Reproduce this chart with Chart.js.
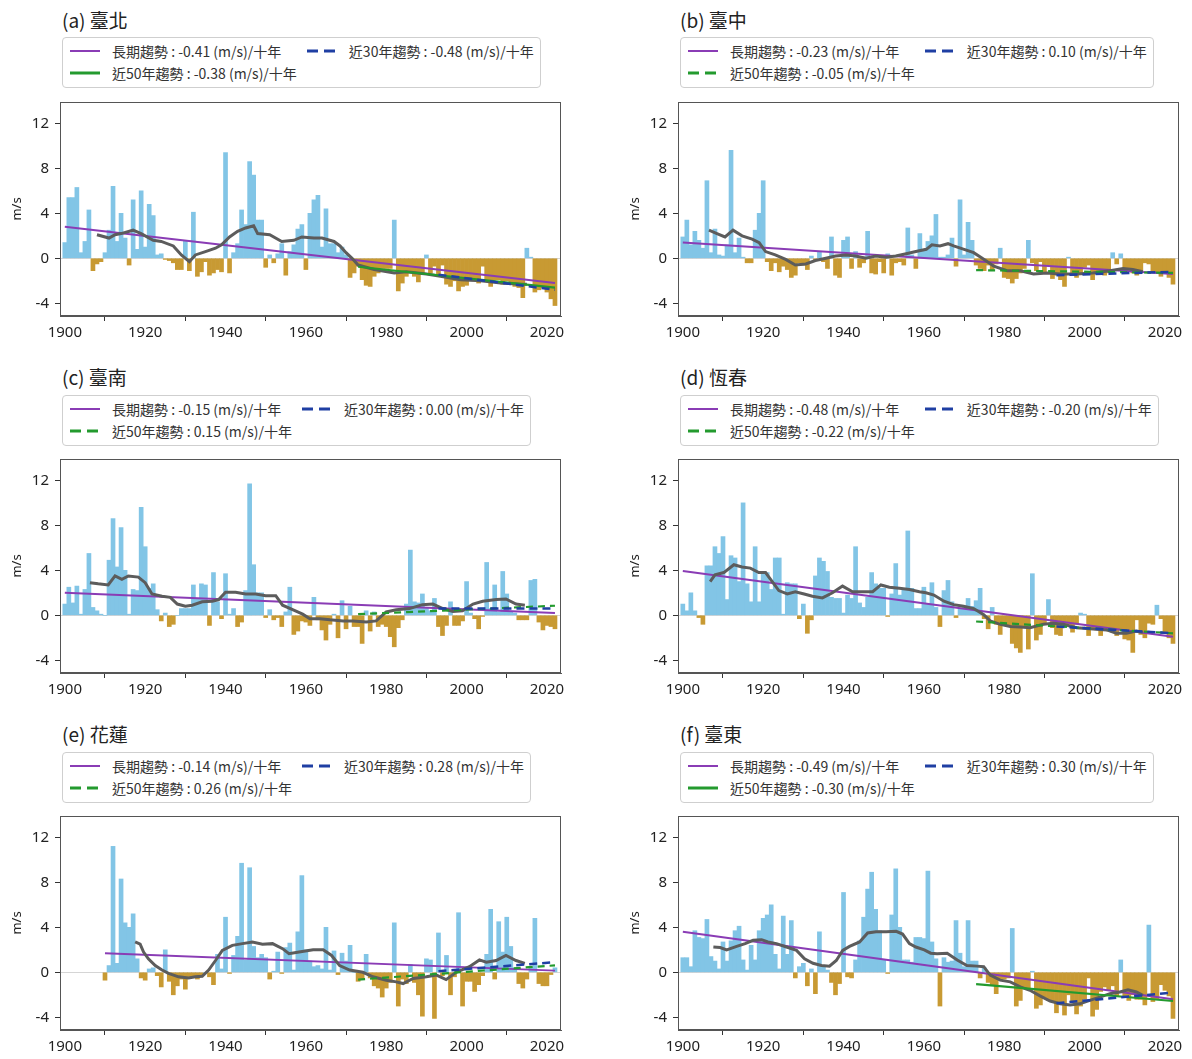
<!DOCTYPE html>
<html>
<head>
<meta charset="utf-8">
<script src="https://cdn.jsdelivr.net/npm/chart.js@4.4.0/dist/chart.umd.min.js"></script>
<style>
  body { margin: 0; background: #fff; width: 1192px; height: 1059px; position: relative; overflow: hidden;
         font-family: "Noto Sans CJK TC", "Noto Sans", sans-serif; }
  .ttl { position: absolute; font-size: 19px; line-height: 20px; color: #222; white-space: nowrap; }
  .leg { position: absolute; border: 1px solid #cfcfcf; border-radius: 4px; padding: 2px 6px 3px 7px;
         display: grid; grid-template-columns: auto auto; column-gap: 10px; font-size: 14px; color: #333; background: #fff; }
  .item { display: flex; align-items: center; height: 22px; white-space: nowrap; }
  .item svg { margin-right: 12px; flex: none; }
  canvas { position: absolute; }
</style>
</head>
<body>
<script>
// years 1900 - 2022
var years = [];
for (var y = 1900; y <= 2022; y++) years.push(y);

var titles = ['(a) 臺北', '(b) 臺中', '(c) 臺南', '(d) 恆春', '(e) 花蓮', '(f) 臺東'];
var slopeLong = ['-0.41', '-0.23', '-0.15', '-0.48', '-0.14', '-0.49'];
var slope30 = ['-0.48', '0.10', '0.00', '-0.20', '0.28', '0.30'];
var slope50 = ['-0.38', '-0.05', '0.15', '-0.22', '0.26', '-0.30'];
var solid50 = [true, false, false, false, false, true];

// yearly anomaly (m/s), one value per year
var barsTaipei = [
  1.4, 5.4, 5.4, 6.3, 0.5, 1.5, 4.3, -1.1, -0.5, -0.3,
  0.5, 2.5, 6.4, 1.5, 4.0, 1.8, -0.6, 5.2, 0.8, 6.0,
  1.0, 4.8, 3.8, 0.3, 0.4, -0.1, -0.2, -0.4, -1.0, -1.0,
  1.6, -1.1, 4.1, -1.6, -1.2, -0.3, -1.5, -1.3, -1.0, -1.2,
  9.4, -1.3, 0.5, 1.3, 4.3, 3.0, 8.6, 7.4, 3.4, 3.4,
  -0.8, 0.3, -0.4, 0.4, 1.3, -1.5, 0.6, 1.2, 2.6, 3.0,
  -1.0, 4.0, 5.2, 5.6, 1.0, 4.4, 1.3, 1.3, 0.5, 1.0,
  0.3, -1.7, -1.3, -0.7, -1.9, -2.4, -2.5, -1.6, -1.3, -0.9,
  -0.9, -0.9, 3.4, -2.9, -2.2, -1.6, -1.3, -1.6, -2.1, -1.3,
  0.3, -1.3, -0.7, -1.4, -0.6, -2.3, -2.5, -2.0, -2.9, -2.5,
  -2.4, -2.0, -1.9, -2.2, -0.7, -2.0, -2.5, -1.9, -1.9, -2.3,
  -2.0, -2.2, -2.5, -2.6, -3.5, 0.9, 0.1, -3.0, -2.8, -2.6,
  -3.0, -3.6, -4.2];
var barsTaichung = [
  1.9, 3.4, 1.2, 2.4, 1.6, 0.9, 6.9, 0.5, 2.6, 0.3,
  0.2, 1.2, 9.6, 0.5, 1.8, 0.1, -0.4, -0.4, 2.5, 4.0,
  6.9, -0.3, -1.1, -0.4, -1.2, -0.7, -1.0, -1.7, -1.5, -0.4,
  -0.6, -1.0, 0.2, -0.2, 0.6, -0.3, -0.9, 1.9, -1.5, -1.7,
  1.6, 1.9, -0.9, 0.6, -0.8, -0.4, 2.4, -1.3, -1.4, -0.3,
  -1.3, 0.4, -1.5, -0.4, -0.3, -0.6, 2.7, 0.3, -0.9, 2.2,
  0.8, 1.5, 2.0, 3.9, 0.1, 0.1, 0.3, 1.8, -0.7, 5.2,
  0.3, 3.2, 1.6, -0.6, -0.9, -1.1, -0.6, -1.0, -0.5, 0.9,
  -1.7, -1.8, -2.2, -1.8, -1.3, -0.9, 1.6, -0.4, -1.1, -0.3,
  -1.2, -0.6, -1.8, -1.5, -1.9, -2.5, 0.1, -1.5, -1.7, -1.3,
  -0.8, -0.6, -1.9, -1.4, -1.2, -1.5, -1.3, 0.5, -0.5, 0.4,
  -1.0, -0.9, -1.3, -1.5, -1.1, -0.4, -0.5, -1.2, -1.3, -1.6,
  -1.2, -1.7, -2.3];
var barsTainan = [
  1.0, 2.5, 1.1, 2.6, 0.1, 2.3, 5.5, 0.7, 0.4, 0.1,
  0.0, 4.9, 8.6, 4.3, 7.8, 4.0, 0.1, 2.3, 2.2, 9.6,
  6.1, 2.4, 2.8, 0.5, -0.5, 0.2, -1.0, -0.8, 0.0, 0.6,
  0.6, 0.6, 2.7, 1.5, 2.8, 2.7, -0.9, 3.8, 1.2, -0.3,
  3.7, 0.1, 0.6, -1.0, -0.6, 2.2, 11.7, 4.5, 2.0, 2.0,
  -0.2, 0.5, -0.4, -0.2, -1.0, 0.3, 2.5, -1.7, -1.4, -0.5,
  -0.6, -0.9, 1.6, -0.4, -1.3, -2.2, -0.8, 0.1, -2.0, 1.3,
  -1.2, 0.8, -1.0, -1.0, -2.5, 0.4, -1.4, 0.3, -1.0, -0.8,
  -1.0, -1.9, -2.8, -1.1, -0.4, 1.0, 5.8, 1.2, 1.1, 1.9,
  0.7, 0.4, 1.5, -1.0, -1.8, -0.9, 1.2, -0.9, -0.9, -0.5,
  3.0, 0.2, -0.3, -1.2, -0.1, 4.7, 0.6, 2.7, 0.3, 3.9,
  1.9, 0.3, 0.2, -0.4, -0.4, -0.4, 3.1, 3.2, -0.6, -1.3,
  -0.9, -1.0, -1.2];
var barsHengchun = [
  1.0, 0.4, 2.0, 0.4, -0.2, -0.8, 4.4, 4.4, 6.1, 5.5,
  7.0, 1.4, 5.3, 5.1, 3.0, 10.0, 2.8, 1.2, 6.1, 1.2,
  3.8, 3.8, 2.3, 5.1, 5.1, 0.1, 2.9, 2.8, 2.8, -0.3,
  1.0, -1.6, -0.4, 3.5, 5.1, 4.8, 3.9, 1.6, 1.5, 1.5,
  0.2, 1.8, 1.5, 6.1, 1.1, 0.7, 1.6, 3.8, 2.8, 2.4,
  2.4, -0.1, 1.9, 4.6, 1.8, 2.4, 7.5, 2.4, 0.6, 0.6,
  2.5, 1.0, 2.9, 0.7, -1.0, 2.2, 3.1, 1.2, -0.2, 0.6,
  0.7, 1.5, 0.8, 1.3, 2.4, -0.3, -1.2, 0.7, -0.8, -1.7,
  -0.7, -1.0, -2.5, -2.9, -3.3, -1.1, -3.0, 3.7, -2.2, -1.7,
  -0.8, 1.4, -1.1, -1.7, -1.8, -1.0, -0.8, -1.5, -0.8, 0.2,
  0.1, -1.8, -1.2, -1.3, -1.8, -1.3, -1.4, -1.5, -1.8, -1.3,
  -2.1, -2.2, -3.3, -0.4, -1.7, -2.0, -0.7, -0.8, 0.9, -0.3,
  -1.6, -2.0, -2.5];
var barsHualien = [
  null, null, null, null, null, null, null, null, null, null,
  -0.7, 0.6, 11.2, 0.8, 8.3, 4.4, 4.0, 5.2, 1.2, -0.5,
  -0.7, 0.3, 0.4, -0.3, -1.3, 2.0, -0.8, -2.0, -1.2, -0.6,
  -1.5, -0.4, -0.3, -0.6, -0.3, 0.0, -0.4, -1.1, 1.6, 0.3,
  4.9, -0.1, 1.5, 3.2, 9.7, 1.1, 9.3, 2.3, 1.3, 1.6,
  1.3, -0.6, 0.1, 1.8, -0.1, 2.2, 2.6, 0.2, 3.6, 8.6,
  2.0, 1.0, 0.5, 0.6, 0.3, 4.0, 0.2, 1.9, -0.2, 1.7,
  1.0, 2.4, 0.0, -0.8, -0.6, 1.6, -0.5, -1.2, -1.4, -2.2,
  -1.4, -0.9, 4.4, -3.0, -0.6, -1.0, 0.7, -0.9, -2.0, -3.9,
  1.2, 1.1, -4.1, 3.5, -0.3, 1.5, -2.0, -0.4, 5.3, -3.0,
  -0.8, -0.8, -1.7, -1.1, -0.3, 1.6, 5.6, -0.6, 4.5, 1.8,
  4.9, 2.3, 0.4, -1.0, -1.4, -0.6, 0.5, 4.8, -1.0, -1.2,
  -1.2, -0.2, 0.4];
var barsTaitung = [
  1.3, 1.3, 0.5, 3.7, 3.1, 3.0, 4.7, 1.4, 1.0, 0.3,
  2.7, 1.0, 2.8, 3.7, 4.1, 1.1, 0.2, 2.4, 1.1, 3.7,
  4.8, 5.1, 6.0, 1.6, 0.3, 5.0, 1.6, 4.6, -0.5, 0.5,
  0.8, -1.2, 0.3, -1.9, 3.6, 0.5, 0.2, -0.9, -2.0, -1.0,
  7.1, -0.4, -0.5, 1.1, 2.8, 4.9, 7.4, 8.9, 5.6, 3.7,
  1.1, -0.1, 5.1, 9.2, 4.0, 1.1, 1.1, 0.9, 3.1, 3.1,
  3.0, 9.0, 2.7, 1.2, -3.0, 1.3, 0.9, 1.0, 4.6, 1.7,
  0.5, 4.6, 1.0, 1.0, -0.5, 0.4, -0.9, -1.1, -1.9, -0.6,
  -0.6, -0.5, 3.9, -3.0, -2.5, -1.4, -1.4, 0.1, -3.2, -2.9,
  -2.2, -2.5, -2.6, -3.6, -2.7, -3.8, -2.0, -2.7, -3.7, -3.0,
  -2.4, -0.5, -3.9, -3.3, -1.7, -1.3, -1.6, -1.2, -2.1, 1.1,
  -2.1, -2.5, -2.0, -2.4, -2.4, -2.9, 4.2, -2.6, -2.4, -1.1,
  -1.6, -2.1, -4.1];

// running mean: [year, m/s]
var maTaipei = [[1908,2.1],[1911,1.8],[1912.5,2.1],[1914,2.2],[1917,2.5],[1919,2.2],[1922,1.6],[1924,1.5],[1927,1.1],[1929,0.3],[1931,-0.3],[1932.5,0.3],[1935,0.6],[1937.5,0.9],[1939,1.2],[1941,1.9],[1943,2.4],[1945,2.7],[1947,2.9],[1948,2.2],[1951,2.1],[1954,1.5],[1957,1.6],[1959,1.9],[1962,1.8],[1964,1.8],[1967,1.5],[1968.5,1.1],[1970,0.5],[1971.5,0.0],[1973,-0.6],[1977,-1.0],[1982,-1.3],[1985,-1.2],[1990,-1.4],[1993.5,-1.6],[1998.5,-1.9],[2003.5,-2.0],[2008.5,-2.2],[2013.5,-2.3],[2015,-2.3]];
var maTaichung = [[1906.5,2.5],[1908.5,2.2],[1910.5,1.9],[1912.5,2.5],[1914.75,2.0],[1917.25,1.7],[1919,1.4],[1920.6,0.6],[1923,0.3],[1925.6,-0.1],[1928,-0.6],[1930.6,-0.5],[1933,-0.2],[1935.6,0.0],[1938,0.2],[1940.6,0.3],[1943,0.2],[1945.6,0.0],[1948,0.2],[1950.6,0.1],[1953,0.2],[1955.6,0.4],[1958,0.6],[1960.6,0.8],[1962,1.2],[1964,1.1],[1966,1.3],[1967.4,1.1],[1970,0.8],[1972.4,0.5],[1975,-0.1],[1977.4,-0.7],[1980.7,-1.1],[1984,-1.1],[1987.3,-1.4],[1990.6,-1.3],[1993.9,-1.4],[1998,-1.4],[2002,-1.3],[2006.3,-1.1],[2009.6,-0.9],[2012,-1.0],[2014.5,-1.2]];
var maTainan = [[1906.25,2.9],[1908.3,2.8],[1910.8,2.7],[1912.5,3.5],[1914.2,3.2],[1915.8,3.5],[1918.3,3.4],[1920,2.9],[1921.7,1.9],[1924.2,1.7],[1926.25,1.6],[1928,1.0],[1930,0.8],[1931.7,0.9],[1934.2,1.2],[1936.7,1.25],[1938.3,1.4],[1940,2.05],[1942.5,2.05],[1945,1.9],[1947.5,1.9],[1950,1.75],[1952.5,1.75],[1954.2,0.9],[1956.7,0.5],[1959.2,0.1],[1961,-0.3],[1963.5,-0.3],[1966,-0.4],[1969.3,-0.5],[1971.75,-0.5],[1975,-0.6],[1977.5,-0.5],[1980,0.3],[1982.5,0.5],[1985.8,0.6],[1989,0.95],[1991.6,1.0],[1994.1,0.6],[1996.6,0.35],[1999,0.4],[2001.6,1.0],[2004,1.25],[2007.4,1.4],[2009.8,1.45],[2012.3,1.0],[2014.5,0.9]];
var maHengchun = [[1906.8,3.0],[1908,3.6],[1910.2,3.8],[1912.7,4.5],[1914.75,4.3],[1916.8,4.2],[1918.9,3.8],[1920.6,3.8],[1922.25,3.0],[1923.9,2.2],[1926,1.9],[1928,2.1],[1930.2,1.9],[1932.25,1.7],[1934.75,1.55],[1937.25,2.0],[1939.75,2.6],[1942.25,2.1],[1944.75,2.1],[1947.25,2.1],[1949.3,2.7],[1951.4,2.5],[1953.9,2.4],[1956.4,2.3],[1958.9,2.1],[1960.5,2.0],[1962.5,1.8],[1965,1.25],[1967.4,0.95],[1969.9,0.8],[1972.4,0.6],[1974.9,0.05],[1976.5,-0.5],[1979,-0.8],[1981.5,-1.0],[1984,-1.05],[1986.4,-1.1],[1989.75,-0.8],[1992.2,-0.7],[1994.7,-0.8],[1998,-1.1],[2001.3,-1.2],[2005.5,-1.3],[2007.9,-1.6],[2010.4,-1.6],[2012.9,-1.4],[2014.5,-1.5]];
var maHualien = [[1917.5,2.7],[1918.75,2.5],[1919.6,1.8],[1920.8,1.2],[1922.5,0.6],[1924.2,0.2],[1925.8,-0.1],[1928.3,-0.4],[1930.8,-0.5],[1932.5,-0.4],[1934.2,-0.35],[1935.8,0.2],[1937.5,1.05],[1939.2,1.95],[1941.7,2.4],[1944.2,2.55],[1946.7,2.7],[1949.2,2.5],[1951.7,2.55],[1954.2,2.1],[1955.8,1.65],[1958.3,1.8],[1961.8,2.0],[1964.3,2.0],[1966.4,1.5],[1968.4,0.6],[1970.9,0.2],[1974.2,0.0],[1976.7,-0.4],[1980,-0.7],[1982.5,-0.85],[1984.2,-1.0],[1986.7,-0.55],[1990,-0.4],[1992.5,-0.25],[1994.9,-0.65],[1997.4,0.0],[2000.7,0.5],[2003.2,1.1],[2004.9,0.9],[2007.35,1.05],[2009.8,1.5],[2012.3,1.05],[2014.5,0.8]];
var maTaitung = [[1907.6,2.25],[1909.3,2.2],[1910.9,2.0],[1913.4,2.3],[1915.5,2.55],[1917.5,2.85],[1919.6,2.9],[1921.2,2.7],[1923.3,2.55],[1925.8,2.25],[1928.3,1.95],[1930.3,1.2],[1932.4,0.8],[1934.5,0.6],[1936.5,0.55],[1938.2,1.05],[1939.8,1.95],[1941.5,2.3],[1944,2.7],[1946,3.5],[1948.1,3.6],[1950.6,3.6],[1953.1,3.65],[1954.7,3.4],[1956.4,2.55],[1958,2.25],[1960.1,2.0],[1961.7,1.7],[1963.3,1.65],[1965.8,1.7],[1968.3,1.1],[1970.7,0.6],[1973.2,0.55],[1974.9,0.5],[1976.5,-0.25],[1979,-0.7],[1981.5,-0.85],[1984,-1.3],[1986.4,-1.6],[1988.9,-2.1],[1991.4,-2.55],[1993.9,-2.8],[1996.4,-2.9],[1998.8,-2.8],[2001.3,-2.5],[2003.8,-2.2],[2006.3,-1.9],[2008.8,-1.75],[2010.8,-1.55],[2012.9,-1.75],[2014.5,-2.05]];

// trend line end points [[year, m/s], [year, m/s]]
var trendLong = [[[1900,2.8],[2022,-2.2]], [[1900,1.4],[2022,-1.4]], [[1900,2.0],[2022,0.2]],
                 [[1900,3.95],[2022,-1.9]], [[1910,1.7],[2022,0.15]], [[1900,3.6],[2022,-2.4]]];
var trend50 = [[[1973,-0.75],[2022,-2.6]], [[1973,-1.05],[2022,-1.3]], [[1973,0.1],[2022,0.85]],
               [[1973,-0.55],[2022,-1.6]], [[1973,-0.65],[2022,0.62]], [[1973,-1.05],[2022,-2.55]]];
var trend30 = [[[1993,-1.45],[2022,-2.8]], [[1993,-1.5],[2022,-1.2]], [[1993,0.6],[2022,0.6]],
               [[1993,-1.0],[2022,-1.6]], [[1993,0.1],[2022,0.9]], [[1993,-2.75],[2022,-1.8]]];

var xTicks = [1900, 1920, 1940, 1960, 1980, 2000, 2020];
var yTicks = [-4, 0, 4, 8, 12];

var allBars = [barsTaipei, barsTaichung, barsTainan, barsHengchun, barsHualien, barsTaitung];
var allMA = [maTaipei, maTaichung, maTainan, maHengchun, maHualien, maTaitung];

var BLUE_BAR = '#82c5e6', BROWN_BAR = '#c89a33';
var PURPLE = '#8a3cb5', GRAY = '#5c5c5c', GREEN = '#239a2e', BLUE = '#1f3fa3';

var colX = [0, 618];
var rowCanvasTop = [98, 455, 812];
var rowTitleTop = [10, 367, 724];
var rowLegTop = [37, 395, 752];

Chart.defaults.font.family = "'Noto Sans', 'DejaVu Sans', sans-serif";

function toPts(pairs) {
    return pairs.map(function(p) { return {x: p[0], y: p[1]}; });
}

function handle(color, dash, width) {
    return '<svg width="30" height="10"><line x1="0" y1="5" x2="30" y2="5" stroke="' + color +
        '" stroke-width="' + width + '"' + (dash ? ' stroke-dasharray="' + dash + '"' : '') + '/></svg>';
}

var framePlugin = {
    id: 'frame',
    afterDraw: function(chart) {
        var a = chart.chartArea, c = chart.ctx;
        c.save();
        c.strokeStyle = '#555';
        c.lineWidth = 1;
        c.strokeRect(Math.round(a.left) + 0.5, Math.round(a.top) + 0.5,
                     Math.round(a.right - a.left) - 1, Math.round(a.bottom - a.top) - 1);
        c.restore();
    }
};

for (var i = 0; i < 6; i++) {
    if (allBars[i].length != years.length) throw new Error('bars ' + i + ' has ' + allBars[i].length);
    var col = i % 2, row = Math.floor(i / 2);
    var x0 = colX[col];

    var t = document.createElement('div');
    t.className = 'ttl';
    t.style.left = (x0 + 62) + 'px';
    t.style.top = rowTitleTop[row] + 'px';
    t.textContent = titles[i];
    document.body.appendChild(t);

    var leg = document.createElement('div');
    leg.className = 'leg';
    leg.style.left = (x0 + 62) + 'px';
    leg.style.top = rowLegTop[row] + 'px';
    leg.innerHTML =
        '<div class="item">' + handle(PURPLE, null, 2) + '長期趨勢 : ' + slopeLong[i] + ' (m/s)/十年</div>' +
        '<div class="item">' + handle(BLUE, '11 6', 3) + '近30年趨勢 : ' + slope30[i] + ' (m/s)/十年</div>' +
        '<div class="item">' + handle(GREEN, solid50[i] ? null : '11 6', 3) + '近50年趨勢 : ' + slope50[i] + ' (m/s)/十年</div>';
    document.body.appendChild(leg);

    var cv = document.createElement('canvas');
    cv.width = 566;
    cv.height = 250;
    cv.style.left = x0 + 'px';
    cv.style.top = rowCanvasTop[row] + 'px';
    document.body.appendChild(cv);

    var barPts = [];
    for (var k = 0; k < years.length; k++) {
        if (allBars[i][k] !== null) barPts.push({x: years[k], y: allBars[i][k]});
    }

    new Chart(cv.getContext('2d'), {
        type: 'bar',
        data: {
            datasets: [
                {type: 'bar', data: barPts, order: 10,
                 backgroundColor: barPts.map(function(p) { return p.y >= 0 ? BLUE_BAR : BROWN_BAR; }),
                 barPercentage: 1.0, categoryPercentage: 1.0, borderWidth: 0},
                {type: 'line', data: toPts(trendLong[i]), order: 4, borderColor: PURPLE, borderWidth: 2, pointRadius: 0},
                {type: 'line', data: toPts(allMA[i]), order: 3, borderColor: GRAY, borderWidth: 3, pointRadius: 0},
                {type: 'line', data: toPts(trend50[i]), order: 2, borderColor: GREEN, borderWidth: 2.2, pointRadius: 0,
                 borderDash: solid50[i] ? [] : [7, 5]},
                {type: 'line', data: toPts(trend30[i]), order: 1, borderColor: BLUE, borderWidth: 2.5, pointRadius: 0,
                 borderDash: [8, 5]}
            ]
        },
        options: {
            responsive: false,
            animation: false,
            events: [],
            layout: {padding: {top: 4, right: 5, left: 0, bottom: 0}},
            plugins: {legend: {display: false}, tooltip: {enabled: false}},
            scales: {
                x: {
                    type: 'linear', min: 1898.8, max: 2023.5, offset: false,
                    afterBuildTicks: function(s) { s.ticks = xTicks.map(function(v) { return {value: v}; }); },
                    afterFit: function(s) { s.height = 32; s.paddingLeft = 0; s.paddingRight = 0; },
                    grid: {drawOnChartArea: false, tickLength: 5, tickColor: '#333'},
                    border: {color: '#555'},
                    ticks: {color: '#222', font: {size: 15}, padding: 3, maxRotation: 0,
                            callback: function(v) { return String(v); }}
                },
                y: {
                    min: -5.13, max: 13.9,
                    afterBuildTicks: function(s) { s.ticks = yTicks.map(function(v) { return {value: v}; }); },
                    afterFit: function(s) { s.width = 60; s.paddingTop = 0; s.paddingBottom = 0; },
                    grid: {
                        color: function(c) { return c.tick && c.tick.value === 0 ? '#d5d5d5' : 'rgba(0,0,0,0)'; },
                        tickColor: '#333', tickLength: 5
                    },
                    border: {color: '#555'},
                    ticks: {color: '#222', font: {size: 15}, padding: 6},
                    title: {display: true, text: 'm/s', color: '#222', font: {size: 13}, padding: {top: 9, bottom: 0}}
                }
            }
        },
        plugins: [framePlugin]
    });
}
</script>
</body>
</html>
